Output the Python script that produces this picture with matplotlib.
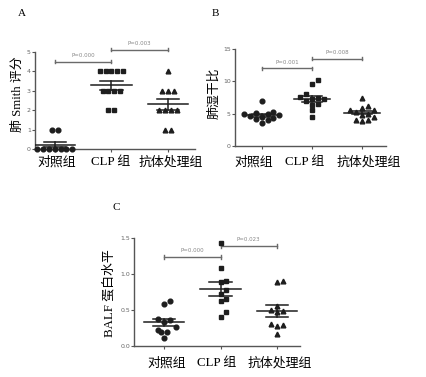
import numpy as np
import matplotlib.pyplot as plt

plt.rcParams['font.family'] = ['Liberation Serif', 'Noto Sans CJK SC']

groups = ['对照组', 'CLP 组', '抗体处理组']

# A: lung Smith score
smith_ctrl = [1, 1, 0, 0, 0, 0, 0, 0, 0]
smith_clp = [4, 4, 4, 4, 4, 3, 3, 3, 3, 2, 2]
smith_ab = [4, 3, 3, 3, 2, 2, 2, 2, 1, 1]

# B: lung wet/dry ratio
wd_ctrl = [7.0, 5.2, 5.1, 5.0, 4.9, 4.8, 4.6, 4.5, 4.3, 4.2, 4.0, 3.5]
wd_clp = [10.2, 9.6, 8.1, 7.5, 7.4, 7.3, 7.2, 7.0, 6.5, 6.4, 5.5, 4.5]
wd_ab = [7.4, 6.2, 5.8, 5.6, 5.5, 5.3, 5.0, 4.8, 4.5, 4.0, 4.0, 3.9]

# C: BALF protein
balf_ctrl = [0.62, 0.58, 0.38, 0.36, 0.33, 0.27, 0.22, 0.20, 0.20, 0.11]
balf_clp = [1.42, 1.08, 0.90, 0.88, 0.78, 0.72, 0.65, 0.62, 0.47, 0.40]
balf_ab = [0.90, 0.89, 0.55, 0.50, 0.48, 0.47, 0.30, 0.29, 0.28, 0.17]

markers = ['o', 's', '^']
dark = '#1e1e1e'
grey = '#6a6a6a'
W, H = 427, 377


def swarm(ax, vals, center, size_px):
    # simple beeswarm: spread points that would overlap
    fig = ax.figure
    bbox = ax.get_position()
    w_px = bbox.width * fig.get_figwidth() * fig.dpi
    h_px = bbox.height * fig.get_figheight() * fig.dpi
    x0, x1 = ax.get_xlim()
    y0, y1 = ax.get_ylim()
    sx = w_px / (x1 - x0)
    sy = h_px / (y1 - y0)
    step = size_px / sx
    cands = [0]
    for i in range(1, 12):
        cands += [i * step, -i * step]
    placed = []
    for v in sorted(vals):
        for c in cands:
            ok = True
            for px, py in placed:
                if ((c - px) * sx) ** 2 + ((v - py) * sy) ** 2 < (size_px * 0.95) ** 2:
                    ok = False
                    break
            if ok:
                break
        placed.append((c, v))
    # recentre rows of identical values
    res = []
    ys = np.array([p[1] for p in placed])
    for v in np.unique(ys):
        idx = np.where(ys == v)[0]
        xs = np.array([placed[i][0] for i in idx])
        shift = -xs.mean() if len(idx) > 1 else 0
        for i in idx:
            res.append((center + placed[i][0] + shift, v))
    return res


def panel(ax, data, ylim, yticks, fmt, xlim, brackets, labels_px):
    ax.set_xlim(*xlim)
    ax.set_ylim(*ylim)
    for i, vals in enumerate(data):
        pts = swarm(ax, vals, i + 1, 5.8)
        ax.plot([p[0] for p in pts], [p[1] for p in pts], linestyle='none',
                marker=markers[i], ms=3.4, color=dark, mec=dark, clip_on=False, zorder=3)
        m = np.mean(vals)
        se = np.std(vals, ddof=1) / np.sqrt(len(vals))
        c = i + 1
        ax.plot([c - 0.36, c + 0.36], [m, m], color=dark, lw=1.1, zorder=4)
        ax.plot([c, c], [m - se, m + se], color=dark, lw=1.1, zorder=4)
        for e in (m - se, m + se):
            ax.plot([c - 0.2, c + 0.2], [e, e], color=dark, lw=1.1, zorder=4)
    span = ylim[1] - ylim[0]
    for x1, x2, y, txt in brackets:
        cap = span * 0.018
        ax.plot([x1, x2], [y, y], color=grey, lw=1.0, clip_on=False)
        for xx in (x1, x2):
            ax.plot([xx, xx], [y - cap, y + cap], color=grey, lw=1.0, clip_on=False)
        ax.text((x1 + x2) / 2, y + span * 0.035, txt, ha='center', va='bottom',
                fontsize=4, color='#888888', family='DejaVu Sans')
    for s in ('top', 'right'):
        ax.spines[s].set_visible(False)
    for s in ('left', 'bottom'):
        ax.spines[s].set_color('#555555')
        ax.spines[s].set_linewidth(1.0)
    ax.set_yticks(yticks)
    ax.set_yticklabels([fmt % t for t in yticks],
                       fontsize=4.5, color='#666666', family='DejaVu Sans')
    ax.set_xticks([1, 2, 3])
    ax.set_xticklabels([])
    ax.tick_params(axis='y', length=2, width=0.8, color='#555555', pad=1)
    ax.tick_params(axis='x', length=2, width=0.8, color='#555555')
    xs, ypx = labels_px
    for g, x in zip(groups, xs):
        fig.text(x / W, 1 - ypx / H, g, ha='center', va='center', fontsize=9.3)


fig = plt.figure(figsize=(4.27, 3.77), dpi=100)

axA = fig.add_axes([0.082, 0.605, 0.375, 0.257])
panel(axA, [smith_ctrl, smith_clp, smith_ab], (0, 5), [0, 1, 2, 3, 4, 5], '%d',
      (0.65, 3.48), [(1, 2, 4.5, 'P=0.000'), (2, 3, 5.12, 'P=0.003')],
      ([57, 111, 171], 162))

axB = fig.add_axes([0.550, 0.613, 0.354, 0.257])
panel(axB, [wd_ctrl, wd_clp, wd_ab], (0, 15), [0, 5, 10, 15], '%d',
      (0.46, 3.48), [(1, 2, 12.0, 'P=0.001'), (2, 3, 13.5, 'P=0.008')],
      ([254, 305, 369], 162))

axC = fig.add_axes([0.314, 0.082, 0.389, 0.288])
panel(axC, [balf_ctrl, balf_clp, balf_ab], (0, 1.5), [0.0, 0.5, 1.0, 1.5], '%.1f',
      (0.47, 3.41), [(1, 2, 1.23, 'P=0.000'), (2, 3, 1.38, 'P=0.023')],
      ([167, 217, 280], 363))

fig.text(18 / W, 1 - 94 / H, '肺 Smith 评分', rotation=90, ha='center', va='center', fontsize=9.3)
fig.text(214 / W, 1 - 93 / H, '肺湿干比', rotation=90, ha='center', va='center', fontsize=9.3)
fig.text(109 / W, 1 - 293 / H, 'BALF 蛋白水平', rotation=90, ha='center', va='center', fontsize=9.3)

fig.text(18 / W, 1 - 13 / H, 'A', fontsize=8, ha='left', va='center')
fig.text(212 / W, 1 - 13 / H, 'B', fontsize=8, ha='left', va='center')
fig.text(113 / W, 1 - 207 / H, 'C', fontsize=8, ha='left', va='center')

fig.savefig('out.png', dpi=100)
